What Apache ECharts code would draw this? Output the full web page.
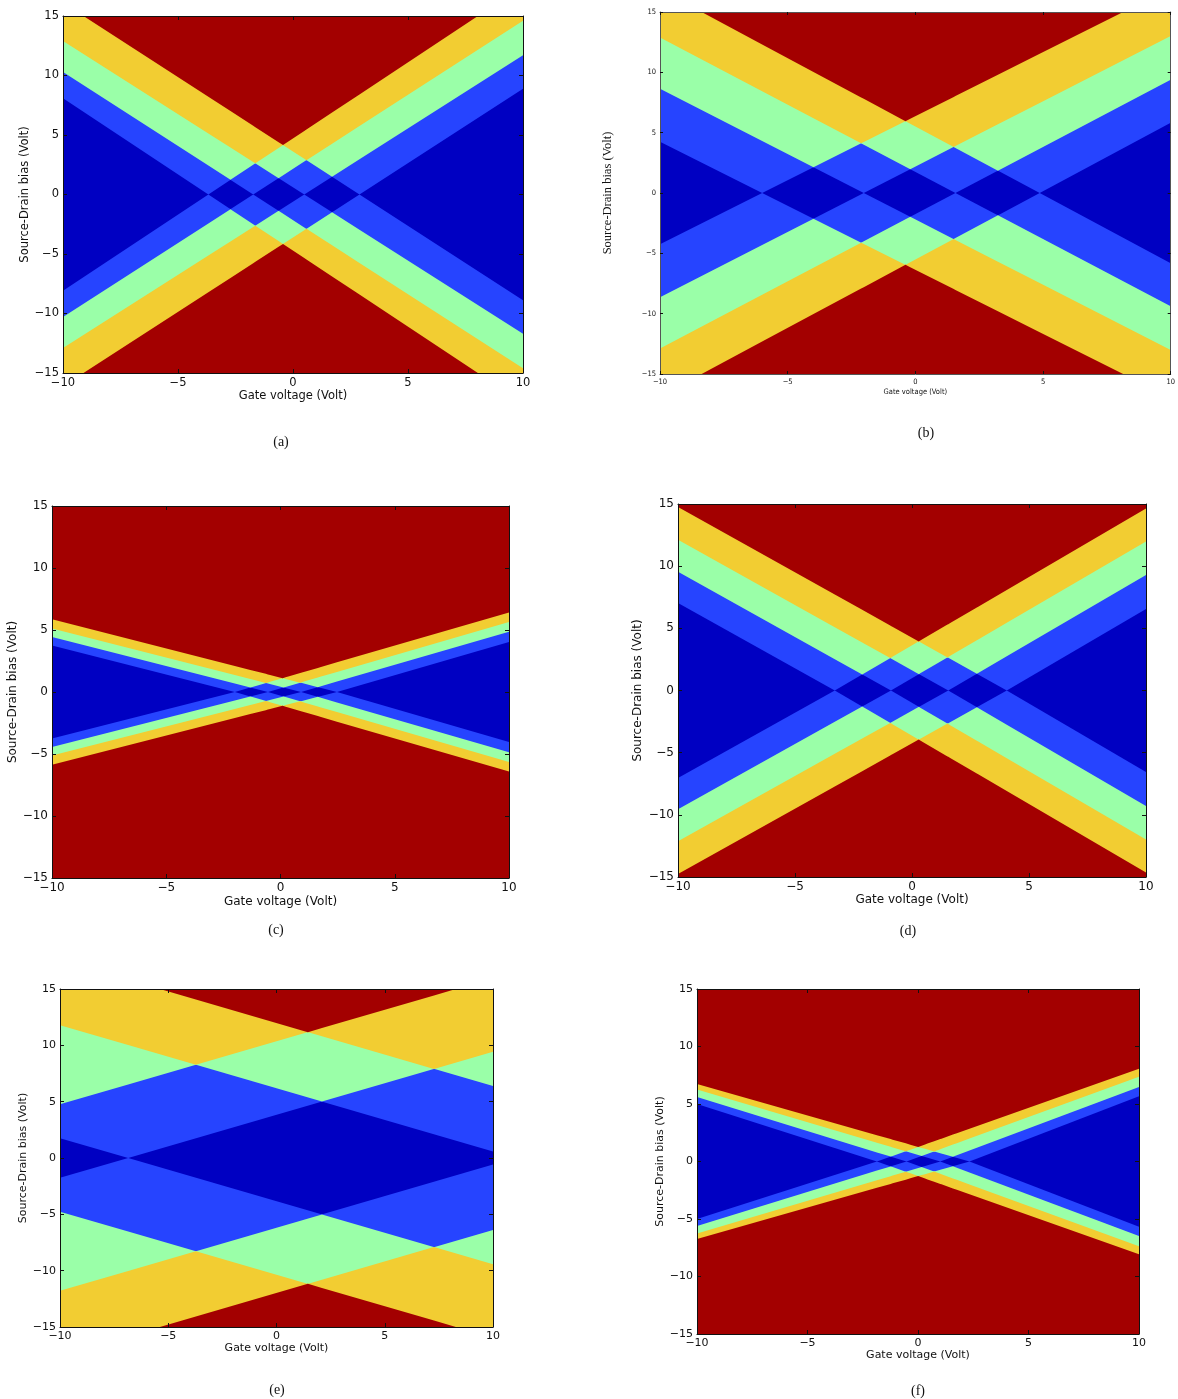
<!DOCTYPE html>
<html>
<head>
<meta charset="utf-8">
<style>
  html, body { margin: 0; padding: 0; background: #ffffff; }
  #chart { width: 1178px; height: 1399px; }
</style>
<script src="https://cdn.jsdelivr.net/npm/echarts/dist/echarts.min.js"></script>
</head>
<body>
<div id="chart"></div>
<script>
// ---------------- data ----------------
const gateTicks = [-10, -5, 0, 5, 10];
const biasTicks = [-15, -10, -5, 0, 5, 10, 15];
const panelLabels = ['(a)', '(b)', '(c)', '(d)', '(e)', '(f)'];
const xTitle = 'Gate voltage (Volt)';
const yTitle = 'Source-Drain bias (Volt)';

// gate voltages (Volt) where each level's diamond edges meet the zero-bias line,
// and the slopes of its two edges (left edge falls, right edge rises)
const levelsA = [-3.68, -1.73, 0.49, 2.89];
const slopeLeftA = [1.28, 1.245, 1.23, 1.25];
const slopeRightA = [1.28, 1.245, 1.23, 1.25];

const levelsB = [-6.0, -2.02, 1.57, 4.87];
const slopeLeftB = [1.061, 1.083, 1.114, 1.133];
const slopeRightB = [1.061, 1.083, 1.114, 1.133];

const levelsC = [-2.0, -0.55, 0.9, 2.47];
const slopeLeftC = [0.47, 0.47, 0.47, 0.47];
const slopeRightC = [0.535, 0.535, 0.535, 0.535];

const levelsD = [-3.3, -0.9, 1.55, 4.05];
const slopeLeftD = [1.05, 1.05, 1.05, 1.05];
const slopeRightD = [1.10, 1.10, 1.10, 1.10];

const levelsE = [-18.5, -6.85, 11.05, 21.4];
const slopeLeftE = [0.56, 0.56, 0.56, 0.56];
const slopeRightE = [0.56, 0.56, 0.56, 0.56];

const levelsF = [-1.86, -0.52, 1.01, 2.33];
const slopeLeftF = [0.614, 0.592, 0.569, 0.547];
const slopeRightF = [0.680, 0.700, 0.720, 0.739];

// colour for 0,1,2,3,4 levels inside the bias window
const levelColours = ['#0000c2', '#2644ff', '#9affa8', '#f2cd32', '#a30000'];

// ---------------- layout (pixels) ----------------
const layout = [
  { left: 63,  top: 16,  width: 460, height: 357, font: 11.5, family: 'DejaVu Sans', yFamily: 'DejaVu Sans', yFont: 11.5, xGap: 17, yGap: 31, cap: [281, 442] },
  { left: 660, top: 12,  width: 515, height: 362, font: 7.5,  family: '"DejaVu Sans Condensed", "DejaVu Sans"', yFamily: '"Liberation Serif"', yFont: 12.5, xGap: 14, yGap: 46, cap: [926, 433] },
  { left: 52,  top: 506, width: 457, height: 372, font: 12,   family: 'DejaVu Sans', yFamily: 'DejaVu Sans', yFont: 12, xGap: 18, yGap: 32, cap: [276, 930] },
  { left: 678, top: 504, width: 468, height: 373, font: 12,   family: 'DejaVu Sans', yFamily: 'DejaVu Sans', yFont: 12, xGap: 17, yGap: 34, cap: [908, 931] },
  { left: 60,  top: 989, width: 433, height: 338, font: 11,   family: 'DejaVu Sans', yFamily: 'DejaVu Sans', yFont: 11, xGap: 16, yGap: 31, cap: [277, 1390] },
  { left: 697, top: 989, width: 442, height: 345, font: 11,   family: 'DejaVu Sans', yFamily: 'DejaVu Sans', yFont: 11, xGap: 16, yGap: 31, cap: [918, 1391] }
];

const panels = [
  [levelsA, slopeLeftA, slopeRightA],
  [levelsB, slopeLeftB, slopeRightB],
  [levelsC, slopeLeftC, slopeRightC],
  [levelsD, slopeLeftD, slopeRightD],
  [levelsE, slopeLeftE, slopeRightE],
  [levelsF, slopeLeftF, slopeRightF]
];

const XMIN = gateTicks[0], XMAX = gateTicks[gateTicks.length - 1];
const YMAX = biasTicks[biasTicks.length - 1];

function combos(n, m) {
  const out = [];
  (function rec(start, acc) {
    if (acc.length === m) { out.push(acc.slice()); return; }
    for (let i = start; i < n; i++) { acc.push(i); rec(i + 1, acc); acc.pop(); }
  })(0, []);
  return out;
}

// region where at least m levels conduct = union of intersections of level cones
function buildPolys(levels, sL, sR) {
  const polys = [];
  const n = levels.length;
  for (let m = 1; m <= n; m++) {
    combos(n, m).forEach(sub => {
      const lines = [];
      sub.forEach(k => {
        lines.push({ a: -sL[k], b: sL[k] * levels[k] });
        lines.push({ a: sR[k], b: -sR[k] * levels[k] });
      });
      const f = x => Math.min(YMAX, Math.max.apply(null, lines.map(l => l.a * x + l.b)));
      let xs = [XMIN, XMAX];
      for (let i = 0; i < lines.length; i++) {
        for (let j = i + 1; j < lines.length; j++) {
          const da = lines[i].a - lines[j].a;
          if (Math.abs(da) > 1e-12) xs.push((lines[j].b - lines[i].b) / da);
        }
        if (Math.abs(lines[i].a) > 1e-12) xs.push((YMAX - lines[i].b) / lines[i].a);
      }
      xs = xs.filter(x => x >= XMIN && x <= XMAX).sort((p, q) => p - q);
      const upper = xs.map(x => [x, f(x)]);
      const lower = xs.map(x => [x, -f(x)]);
      polys.push({ colour: levelColours[m], pts: upper.concat([[XMAX, YMAX], [XMIN, YMAX]]) });
      polys.push({ colour: levelColours[m], pts: lower.concat([[XMAX, -YMAX], [XMIN, -YMAX]]) });
    });
  }
  return polys;
}

const minus = v => (v < 0 ? '\u2212' + (-v) : String(v));

const grids = [], xAxes = [], yAxes = [], series = [], graphics = [];
layout.forEach((L, i) => {
  grids.push({ left: L.left, top: L.top, width: L.width, height: L.height, show: true,
               backgroundColor: levelColours[0], borderWidth: 0 });
  const frame = { show: true, onZero: false, lineStyle: { color: i === 1 ? '#555' : '#111', width: 1 } };
  const tick = { show: true, inside: true, length: i === 1 ? 3 : 4, lineStyle: { color: '#111', width: 1 } };
  const labelStyle = { fontSize: L.font, fontFamily: L.family, color: '#111' };
  xAxes.push({ gridIndex: i, type: 'value', min: XMIN, max: XMAX, interval: 5, position: 'bottom', z: 5,
    axisLine: frame, axisTick: tick, splitLine: { show: false },
    axisLabel: Object.assign({ margin: 4, formatter: minus, showMinLabel: true, showMaxLabel: true }, labelStyle),
    name: xTitle, nameLocation: 'middle', nameGap: L.xGap,
    nameTextStyle: { fontSize: L.font, fontFamily: L.family, color: '#111' } });
  xAxes.push({ gridIndex: i, type: 'value', min: XMIN, max: XMAX, interval: 5, position: 'top', z: 5,
    axisLine: frame, axisTick: tick, splitLine: { show: false }, axisLabel: { show: false } });
  yAxes.push({ gridIndex: i, type: 'value', min: -YMAX, max: YMAX, interval: 5, position: 'left', z: 5,
    axisLine: frame, axisTick: tick, splitLine: { show: false },
    axisLabel: Object.assign({ margin: 4, formatter: minus, showMinLabel: true, showMaxLabel: true }, labelStyle),
    name: yTitle, nameLocation: 'middle', nameGap: L.yGap, nameRotate: 90,
    nameTextStyle: { fontSize: L.yFont, fontFamily: L.yFamily, color: '#111' } });
  yAxes.push({ gridIndex: i, type: 'value', min: -YMAX, max: YMAX, interval: 5, position: 'right', z: 5,
    axisLine: frame, axisTick: tick, splitLine: { show: false }, axisLabel: { show: false } });

  const polys = buildPolys(panels[i][0], panels[i][1], panels[i][2]);
  series.push({
    type: 'custom', xAxisIndex: 2 * i, yAxisIndex: 2 * i, silent: true, clip: true,
    data: polys.map(() => [0, 0]),
    renderItem: (params, api) => {
      const p = polys[params.dataIndex];
      return { type: 'polygon', shape: { points: p.pts.map(q => api.coord(q)) },
               style: { fill: p.colour } };
    }
  });

  graphics.push({ type: 'text', x: L.cap[0], y: L.cap[1],
    style: { text: panelLabels[i], font: '14px "Liberation Serif"', fill: '#111',
             align: 'center', verticalAlign: 'middle' } });
});

const chart = echarts.init(document.getElementById('chart'), null, { renderer: 'canvas' });
chart.setOption({
  animation: false,
  backgroundColor: '#ffffff',
  grid: grids, xAxis: xAxes, yAxis: yAxes, series: series, graphic: graphics
});
</script>
</body>
</html>
